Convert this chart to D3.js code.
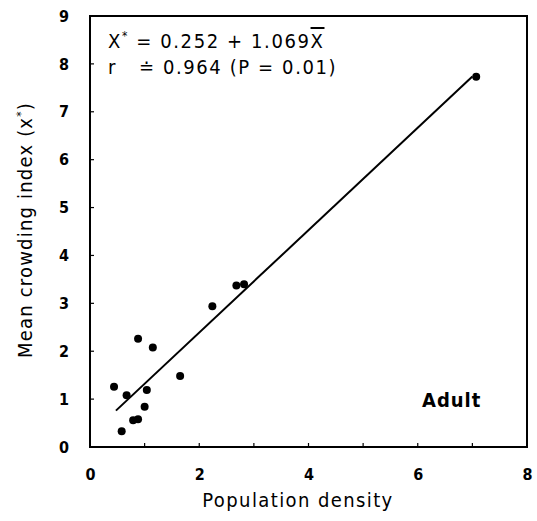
<!DOCTYPE html>
<html>
<head>
<meta charset="utf-8">
<script src="https://cdn.jsdelivr.net/npm/d3@7/dist/d3.min.js"></script>
<style>
  html, body { margin: 0; padding: 0; background: #fff; }
  text { font-family: "Liberation Sans Narrow", "DejaVu Sans Condensed", "Liberation Sans", sans-serif; fill: #000; white-space: pre; }
</style>
</head>
<body>
<svg id="chart" width="537" height="521"></svg>
<script>
// Population density (X) vs mean crowding index (x*), adult stage
const density  = [0.44, 0.67, 0.58, 0.79, 0.88, 1.00, 1.04, 0.88, 1.15, 1.65, 2.24, 2.68, 2.82, 7.07];
const crowding = [1.26, 1.08, 0.33, 0.56, 0.58, 0.84, 1.19, 2.26, 2.08, 1.48, 2.94, 3.37, 3.40, 7.73];
const fitIntercept = 0.252;
const fitSlope = 1.069;
const fitR = 0.964;
const fitP = 0.01;
const fitRange = [0.475, 7.0];
const xTicks = [0, 2, 4, 6, 8];
const yTicks = [0, 1, 2, 3, 4, 5, 6, 7, 8, 9];

const svg = d3.select("#chart");
const plotLeft = 90, plotRight = 527, plotTop = 16, plotBottom = 447;

const x = d3.scaleLinear().domain([0, 8]).range([plotLeft, plotRight]);
const y = d3.scaleLinear().domain([0, 9]).range([plotBottom, plotTop]);

// frame
svg.append("rect")
  .attr("x", plotLeft).attr("y", plotTop)
  .attr("width", plotRight - plotLeft).attr("height", plotBottom - plotTop)
  .attr("fill", "none").attr("stroke", "#000").attr("stroke-width", 2);

// bottom axis: labels every 2, small inward ticks every 1
const xAxis = svg.append("g").attr("transform", `translate(0,${plotBottom})`)
  .call(d3.axisBottom(x).tickValues(xTicks).tickSize(0).tickPadding(22).tickFormat(d3.format("d")));
xAxis.select(".domain").remove();
xAxis.selectAll("text").attr("font-size", 16).attr("font-weight", "bold");
svg.append("g").selectAll("line").data(d3.range(1, 8)).join("line")
  .attr("x1", d => x(d)).attr("x2", d => x(d))
  .attr("y1", plotBottom).attr("y2", plotBottom - 4)
  .attr("stroke", "#000").attr("stroke-width", 1.2);

// left axis
const yAxis = svg.append("g").attr("transform", `translate(${plotLeft},0)`)
  .call(d3.axisLeft(y).tickValues(yTicks).tickSize(0).tickPadding(21).tickFormat(d3.format("d")));
yAxis.select(".domain").remove();
yAxis.selectAll("text").attr("font-size", 16).attr("font-weight", "bold");
svg.append("g").selectAll("line").data(d3.range(1, 9)).join("line")
  .attr("x1", plotLeft).attr("x2", plotLeft + 4)
  .attr("y1", d => y(d)).attr("y2", d => y(d))
  .attr("stroke", "#000").attr("stroke-width", 1.2);

// axis titles
svg.append("text")
  .attr("x", 298).attr("y", 507)
  .attr("text-anchor", "middle").attr("font-size", 20).attr("letter-spacing", 1.4)
  .text("Population density");

const yTitle = svg.append("text")
  .attr("transform", "translate(32,230) rotate(-90)")
  .attr("text-anchor", "middle").attr("font-size", 20).attr("letter-spacing", 1.2);
yTitle.append("tspan").text("Mean crowding index (x");
yTitle.append("tspan").attr("dy", -7).attr("font-size", 12).text("*");
yTitle.append("tspan").attr("dy", 7).text(")");

// regression line
svg.append("line")
  .attr("x1", x(fitRange[0])).attr("y1", y(fitIntercept + fitSlope * fitRange[0]))
  .attr("x2", x(fitRange[1])).attr("y2", y(fitIntercept + fitSlope * fitRange[1]))
  .attr("stroke", "#000").attr("stroke-width", 2);

// observations
svg.append("g").selectAll("circle").data(density).join("circle")
  .attr("cx", (d, i) => x(d)).attr("cy", (d, i) => y(crowding[i]))
  .attr("r", 4).attr("fill", "#000");

// equation
const eq1 = svg.append("text").attr("x", 108).attr("y", 48)
  .attr("font-size", 20).attr("letter-spacing", 1.6);
eq1.append("tspan").text("X");
eq1.append("tspan").attr("dy", -8).attr("font-size", 12).text("*");
eq1.append("tspan").attr("dy", 8).text(` = ${fitIntercept} + ${fitSlope}`);
eq1.append("tspan").attr("text-decoration", "overline").text("X");

svg.append("text").attr("x", 108).attr("y", 74)
  .attr("font-size", 20).attr("letter-spacing", 1.6)
  .text(`r   \u2250 ${fitR} (P = ${fitP})`);

// stage label
svg.append("text").attr("x", 422).attr("y", 407)
  .attr("font-size", 20).attr("font-weight", "bold").attr("letter-spacing", 1)
  .text("Adult");
</script>
</body>
</html>
